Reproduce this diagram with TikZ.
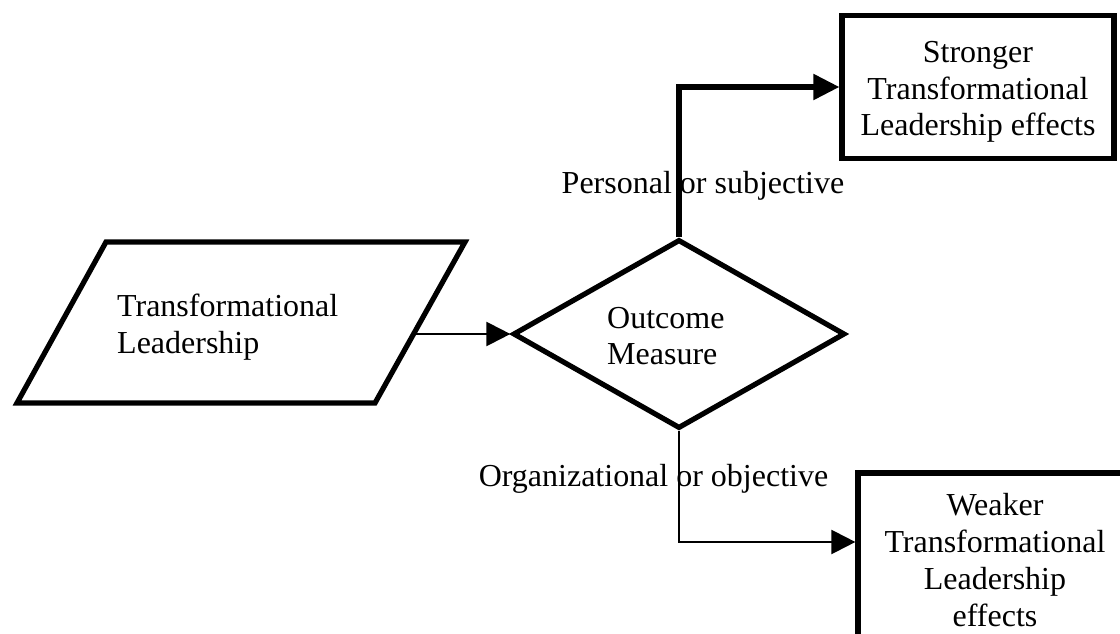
\documentclass[tikz,border=0pt]{standalone}
\usepackage{fontspec}
\setmainfont{Liberation Serif}
\usetikzlibrary{arrows.meta,shapes.geometric,calc}

\begin{document}
\begin{tikzpicture}[x=1pt,y=-1pt,
  heavy/.style={line width=5.2pt},
  light/.style={line width=2.2pt},
  txt/.style={font=\fontsize{32}{36.8}\selectfont, inner sep=0pt},
  boxnode/.style={draw, heavy, rectangle, align=center, txt},
  heavytip/.style={-{Triangle[length=26pt,width=25pt]}},
  lighttip/.style={-{Triangle[length=24pt,width=24pt]}},
]
\useasboundingbox (0,0) rectangle (1120,634);
\clip (0,0) rectangle (1120,634);

% input: parallelogram
\coordinate (pTL) at (106,242);
\coordinate (pTR) at (465,242);
\coordinate (pBR) at (375,403);
\coordinate (pBL) at (17,403);
\draw[heavy, line join=miter] (pTL) -- (pTR) -- (pBR) -- (pBL) -- cycle;
\coordinate (paraOut) at (415,334);
\node[txt, anchor=west, align=left] (paraText) at (117,327) {Transformational\\Leadership};

% decision
\node[draw, heavy, diamond, minimum width=332pt, minimum height=189pt,
      inner sep=0pt] (dec) at (679,334) {};
\node[txt, anchor=west, align=left] (decText) at (607,336) {Outcome\\Measure};

% outcomes (first line padded so the block sits a little low in the box)
\node[boxnode, minimum width=272pt, minimum height=143pt] (strong) at (978,87)
  {\raisebox{0pt}[31pt][0pt]{Stronger}\\Transformational\\Leadership effects};
\node[boxnode, minimum width=274pt, minimum height=174pt] (weak) at (995,560)
  {Weaker\\Transformational\\Leadership\\effects};

% branch labels
\node[txt, anchor=base] (lblUp) at (703,193) {Personal or subjective};
\node[txt, anchor=base] (lblDown) at (653.5,486) {Organizational or objective};

% connectors
\draw[light, lighttip] (paraOut) -- (paraOut -| dec.west);
\draw[heavy, heavytip] (dec.north) |- (strong.west);
\draw[light, lighttip] (dec.south) |- ([yshift=18pt]weak.west);
\end{tikzpicture}
\end{document}
